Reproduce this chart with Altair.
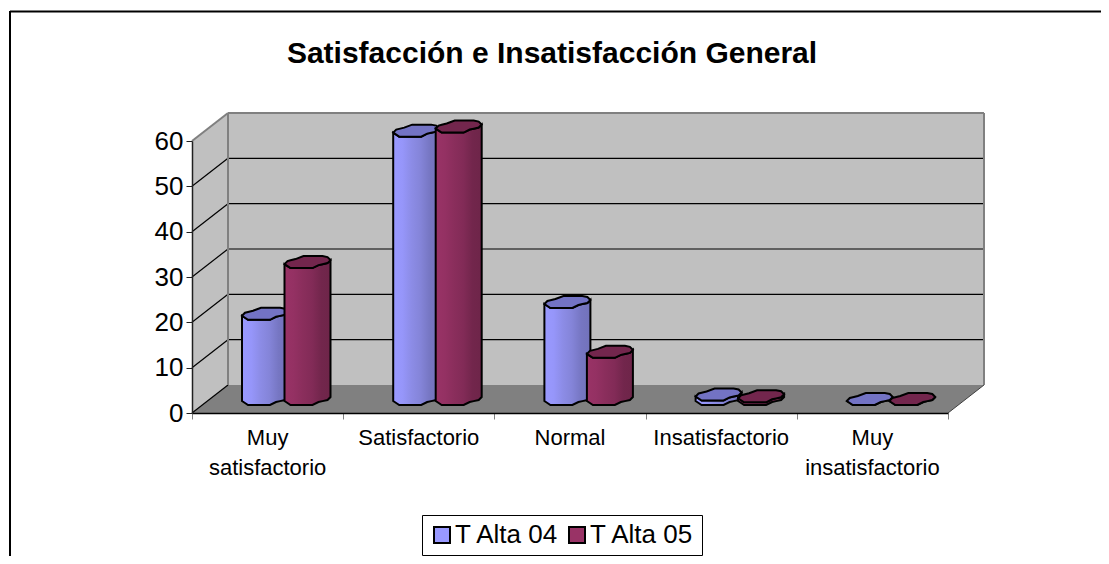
import altair as alt
import numpy as np
import pandas as pd

TITLE = "Satisfacción e Insatisfacción General"
CATEGORIES = ["Muy\nsatisfactorio", "Satisfactorio", "Normal", "Insatisfactorio", "Muy\ninsatisfactorio"]
SERIES = ["T Alta 04", "T Alta 05"]
VALUES_04 = [18.8, 59.2, 21.4, 1.0, 0.0]
VALUES_05 = [30.2, 60.1, 10.4, 0.6, 0.0]
Y_TICKS = [0, 10, 20, 30, 40, 50, 60]

FONT = "Liberation Sans"
# plot-box geometry
W, H, X0, Y0 = 756, 272, 192, 141
PX_X = W / 5
PX_Y = H / 60
def dx(p): return p / PX_X
def dy(p): return p / PX_Y
def X(px): return (px - X0) / PX_X
def Y(py): return (Y0 + H - py) / PX_Y
DEPTH_X, DEPTH_Y = dx(36), dy(28)

xs = alt.Scale(domain=[0, 5], range=[0, W])
ys = alt.Scale(domain=[0, 60], range=[H, 0])
AX_X = alt.Axis(values=list(range(6)), labels=False, title=None, grid=False, zindex=1,
                domainColor="#000000", domainWidth=1.5, tickColor="#808080", tickSize=6, tickWidth=1)
AX_Y = alt.Axis(values=Y_TICKS, title=None, grid=False, zindex=1, labelFont=FONT, labelFontSize=26,
                labelColor="#000000", labelPadding=3, domainColor="#202020", domainWidth=1.5,
                tickColor="#202020", tickSize=6, tickWidth=1)
def enc_x(name="x", **kw): return alt.X(f"{name}:Q", scale=xs, axis=AX_X, **kw)
def enc_y(name="y", **kw): return alt.Y(f"{name}:Q", scale=ys, axis=AX_Y, **kw)

def rules(rows, color, width):
    df = pd.DataFrame(rows, columns=["x", "x2", "y", "y2"])
    return alt.Chart(df).mark_rule(color=color, strokeWidth=width).encode(
        x=enc_x(), x2="x2:Q", y=enc_y(), y2="y2:Q")

layers = []

# chart frame
layers.append(rules([[X(10), X(1109), Y(11.5), Y(11.5)], [X(10), X(10), Y(11), Y(564)]], "#000000", 2))

# floor
floor = pd.DataFrame({"y": [0, DEPTH_Y], "a": [0, DEPTH_X], "b": [5, 5 + DEPTH_X]})
layers.append(alt.Chart(floor).mark_area(color="#808080", orient="horizontal").encode(
    x=enc_x("a"), x2="b:Q", y=enc_y()))
# side wall
side = pd.DataFrame({"x": [0, DEPTH_X], "lo": [0, DEPTH_Y], "hi": [60, 60 + DEPTH_Y]})
layers.append(alt.Chart(side).mark_area(color="#C0C0C0").encode(x=enc_x(), y=enc_y("hi"), y2="lo:Q"))
# back wall
back = pd.DataFrame({"x": [DEPTH_X], "x2": [5 + DEPTH_X], "y": [DEPTH_Y], "y2": [60 + DEPTH_Y]})
layers.append(alt.Chart(back).mark_rect(color="#C0C0C0").encode(x=enc_x(), x2="x2:Q", y=enc_y(), y2="y2:Q"))

# grid lines
grid_back = [[DEPTH_X, 5 + DEPTH_X, v + DEPTH_Y, v + DEPTH_Y] for v in Y_TICKS[1:-1]]
grid_side = [[0, DEPTH_X, v, v + DEPTH_Y] for v in Y_TICKS[:-1]]
layers.append(rules(grid_back + grid_side, "#000000", 1.2))
# wall edges
edges = [
    [DEPTH_X, 5 + DEPTH_X, 60 + DEPTH_Y, 60 + DEPTH_Y],
    [DEPTH_X, DEPTH_X, DEPTH_Y, 60 + DEPTH_Y],
    [5 + DEPTH_X, 5 + DEPTH_X, DEPTH_Y, 60 + DEPTH_Y],
    [0, DEPTH_X, 60, 60 + DEPTH_Y],
]
layers.append(rules(edges, "#808080", 2))
layers.append(rules([[5, 5 + DEPTH_X, 0, DEPTH_Y]], "#404040", 1))

# cylinders: outline of the low-resolution ellipse, in px from the bar's left/front corner
prof_x = np.array([0, 3, 6, 11, 19, 28, 34, 38, 43, 46], float)
lower = np.interp(prof_x, [0, 6, 28, 34, 43, 46], [4, 0, 0, 3, 5, 8])
upper = np.interp(prof_x, [0, 3, 11, 19, 38, 43, 46], [4, 7, 9, 12, 12, 11, 8])
BASE = dy(8)

def bar_frames(values, offset):
    body, cap = [], []
    for i, v in enumerate(values):
        left = i + dx(offset)
        for px, lo, up in zip(prof_x, lower, upper):
            x = left + dx(px)
            body.append({"bar": i, "x": x, "top": v + BASE + dy(lo), "bot": BASE + dy(lo)})
            cap.append({"bar": i, "x": x, "lo": v + BASE + dy(lo), "up": v + BASE + dy(up)})
    return pd.DataFrame(body), pd.DataFrame(cap)

STYLES = [
    (VALUES_04, 50, "#7373C4", ["#9999FF", "#9696FA", "#8C8CE6", "#8484D8", "#7676C2", "#7272BA"]),
    (VALUES_05, 92.5, "#73264D", ["#993366", "#943163", "#8A2E5C", "#822B57", "#72264C", "#6E2549"]),
]
for values, offset, cap_col, stops in STYLES:
    body, cap = bar_frames(values, offset)
    grad = alt.Gradient(
        gradient="linear", x1=0, x2=1, y1=0, y2=0,
        stops=[alt.GradientStop(offset=k / (len(stops) - 1), color=c) for k, c in enumerate(stops)],
    )
    layers.append(alt.Chart(body).mark_area(color=grad, stroke="#000000", strokeWidth=2).encode(
        x=enc_x(), y=enc_y("top"), y2="bot:Q", detail="bar:N"))
    layers.append(alt.Chart(cap).mark_area(color=cap_col, stroke="#000000", strokeWidth=2).encode(
        x=enc_x(), y=enc_y("up"), y2="lo:Q", detail="bar:N"))

# category labels
labels = pd.DataFrame({"label": CATEGORIES, "x": [i + 0.5 for i in range(5)], "y": [Y(445)] * 5})
layers.append(alt.Chart(labels).mark_text(
    font=FONT, fontSize=22, color="#000000", lineBreak="\n", lineHeight=30, baseline="alphabetic", align="center"
).encode(x=enc_x(), y=enc_y(), text="label:N"))

# legend
leg = pd.DataFrame({"series": SERIES, "x": [0, 0], "y": [0, 0]})
layers.append(alt.Chart(leg).mark_square(opacity=0).encode(
    x=enc_x(), y=enc_y(),
    color=alt.Color("series:N", scale=alt.Scale(domain=SERIES, range=["#9999FF", "#993366"]), legend=alt.Legend(
        title=None, orient="none", legendX=230, legendY=374, direction="horizontal", columns=2,
        symbolType="square", symbolSize=256, symbolOpacity=1, symbolStrokeColor="#000000", symbolStrokeWidth=2,
        labelFont=FONT, labelFontSize=26, labelColor="#000000", labelLimit=200, labelOffset=0,
        columnPadding=4, padding=7, strokeColor="#000000", fillColor="#FFFFFF", cornerRadius=0,
    )),
))

chart = alt.layer(*layers).properties(
    width=W, height=H,
    title=alt.TitleParams(TITLE, font=FONT, fontSize=30, fontWeight="bold", color="#000000",
                          anchor="middle", dx=-18, offset=-59),
    padding={"left": 184, "top": 133, "right": 153, "bottom": 143},
    autosize=alt.AutoSizeParams(type="none"),
    background="#FFFFFF",
).configure_view(stroke=None)

chart.save("out.html", embed_options={"renderer": "svg", "actions": False})
